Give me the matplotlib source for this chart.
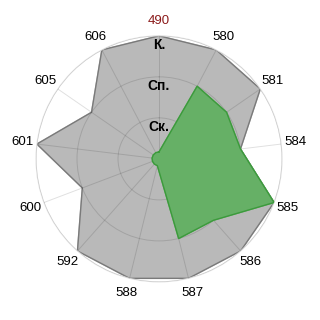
import numpy as np
import matplotlib
matplotlib.use("Agg")
from matplotlib import pyplot as plt

plt.rcParams['font.family'] = ['Liberation Sans', 'DejaVu Sans']

# categories clockwise from the top
categories = ['490', '580', '581', '584', '585', '586', '587', '588', '592', '600', '601', '605', '606']
gray_vals = [3, 3, 3, 2, 3, 3, 3, 3, 3, 2, 3, 2, 3]
green_vals = [0.17, 2, 2, 2, 3, 2, 2, 0.17, 0.17, 0.17, 0.17, 0.17, 0.17]
ring_vals = [1, 2, 3]
ring_labels = ['Ск.', 'Сп.', 'К.']

n = len(categories)
theta = np.linspace(0, 2 * np.pi, n, endpoint=False)
th = np.append(theta, theta[0])

fig = plt.figure(figsize=(3.2, 3.2), dpi=100)
ax = fig.add_axes([0.1125, 0.119, 0.769, 0.769], projection='polar')
ax.set_theta_offset(np.pi / 2)
ax.set_theta_direction(-1)
ax.set_ylim(0, 3)

g = np.append(gray_vals, gray_vals[0])
ax.fill(th, g, color='#b9b9b9', zorder=1)
ax.plot(th, g, color='#7a7a7a', lw=1, zorder=2)
gr = np.append(green_vals, green_vals[0])
ax.fill(th, gr, color='#66b066', zorder=3)
ax.plot(th, gr, color='#3c9a3c', lw=1, zorder=4)

ax.set_axisbelow(False)
ax.set_rgrids(ring_vals, labels=[''] * 3)
ax.set_xticks(theta)
ax.set_xticklabels(categories, fontsize=9.5)
ax.get_xticklabels()[0].set_color('#8b1a1a')
ax.tick_params(axis='x', pad=0)
ax.grid(True, color='k', alpha=0.12, lw=0.7)
ax.spines['polar'].set_color('#e2e2e2')

for r, lab in zip(ring_vals, ring_labels):
    ax.text(0, r - 0.23, lab, ha='center', va='center', fontsize=10,
            fontweight='bold', zorder=6)

fig.savefig('out.png', dpi=100)
